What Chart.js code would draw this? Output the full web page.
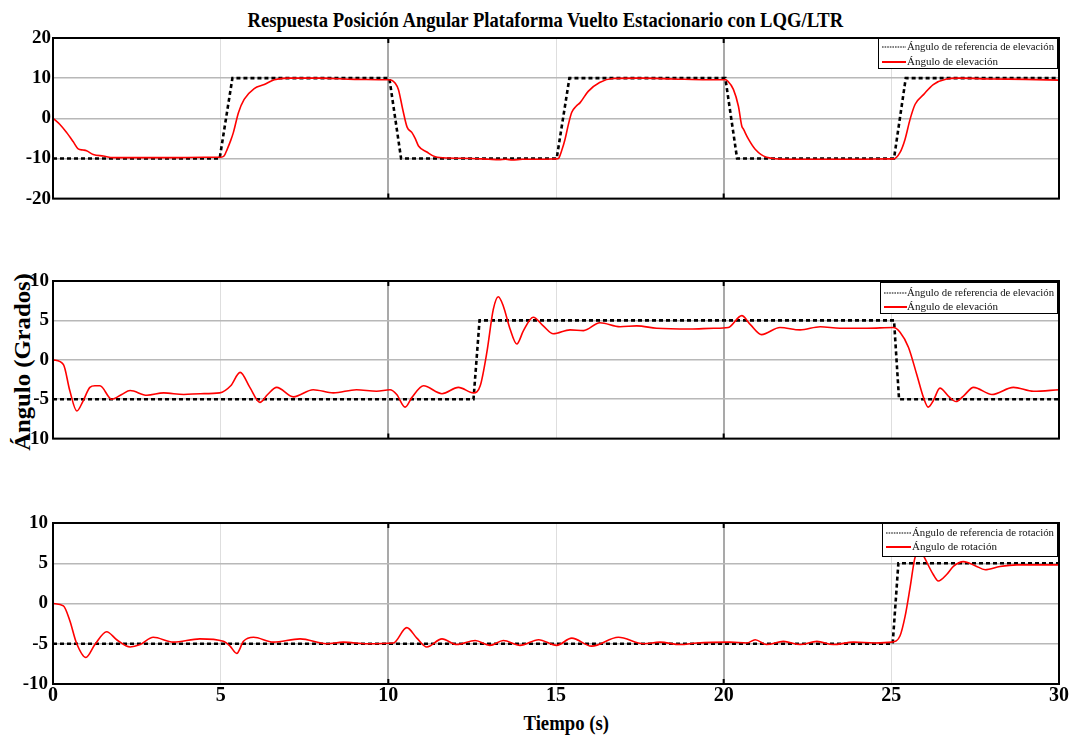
<!DOCTYPE html>
<html>
<head>
<meta charset="utf-8">
<script src="https://cdn.jsdelivr.net/npm/chart.js@4.4.0/dist/chart.umd.min.js"></script>
<style>
  html, body { margin:0; padding:0; background:#fff; }
  body { width:1070px; height:737px; position:relative; overflow:hidden; font-family:"Liberation Serif", serif; }
  canvas { position:absolute; left:0; }
  .lbl { position:absolute; white-space:nowrap; font-family:"Liberation Serif", serif; font-weight:bold; color:#000; transform-origin:50% 50%; }
</style>
</head>
<body>
<div id="title" class="lbl" style="font-size:21px;line-height:21px;">Respuesta Posición Angular Plataforma Vuelto Estacionario con LQG/LTR</div>
<div id="ylab" class="lbl" style="font-size:24px;line-height:24px;">Ángulo (Grados)</div>
<div id="xlab" class="lbl" style="font-size:22px;line-height:22px;">Tiempo (s)</div>
<canvas id="c1" width="1070" height="212" style="top:0px"></canvas>
<canvas id="c2" width="1070" height="204" style="top:250px"></canvas>
<canvas id="c3" width="1070" height="237" style="top:500px"></canvas>
<script>
// ---------------- DATA ----------------
const xTicks = [0, 5, 10, 15, 20, 25, 30];
const yTicksTop = [-20, -10, 0, 10, 20];
const yTicksLow = [-10, -5, 0, 5, 10];

const labelRefElev = 'Ángulo de referencia de elevación';
const labelElev = 'Ángulo de elevación';
const labelRefRot = 'Ángulo de referencia de rotación';
const labelRot = 'Ángulo de rotación';

// Panel 1: elevation reference (square wave ±10)
const refElevT1 = [0, 4.97, 5.35, 10.03, 10.38, 15.02, 15.40, 20.05, 20.40, 25.08, 25.43, 30];
const refElevV1 = [-10, -10, 10, 10, -10, -10, 10, 10, -10, -10, 10, 10];
// Panel 1: elevation response
const elevT1 = [
  0, 0.2, 0.4, 0.6, 0.75, 0.9, 1.0, 1.2, 1.5, 1.8, 2.5, 3.5, 4.5, 5.0,
  5.1, 5.2, 5.3, 5.38, 5.53, 5.7, 6.0, 6.3, 6.6, 7.0, 8.0, 9.0, 10.0,
  10.1, 10.2, 10.3, 10.43, 10.56, 10.7, 10.8, 10.9, 11.15, 11.4, 11.8, 12.5, 13.0, 13.3, 13.5, 13.7, 14.0, 14.5, 15.0,
  15.07, 15.17, 15.27, 15.37, 15.47, 15.6, 15.72, 15.96, 16.3, 16.7, 17.5, 18.5, 19.5, 20.05,
  20.12, 20.29, 20.44, 20.54, 20.59, 20.74, 20.94, 21.28, 21.9, 23, 24, 25.0,
  25.06, 25.26, 25.41, 25.56, 25.71, 25.96, 26.25, 26.65, 27.0, 28.0, 29.0, 30
];
const elevV1 = [
  0, -1.5, -3.5, -5.8, -7.6, -7.9, -8.1, -9.0, -9.4, -9.8, -9.8, -9.8, -9.7, -9.7,
  -9.4, -7.6, -5.5, -3.5, 1.4, 4.7, 7.4, 8.4, 9.6, 10.0, 10.0, 9.7, 9.6,
  9.5, 8.8, 7.2, 2.2, -2.2, -3.5, -5.0, -6.9, -8.4, -9.6, -9.9, -10.0, -10.2, -10.3, -10.2, -10.4, -10.2, -10.2, -10.1,
  -10.0, -8.0, -5.2, -1.5, 1.5, 3.0, 3.9, 6.7, 8.9, 9.9, 10.0, 9.8, 9.6, 9.6,
  9.3, 7.2, 3.0, -1.9, -2.7, -5.2, -7.7, -9.7, -10.2, -10.2, -10.2, -10.1,
  -10.1, -8.5, -5.2, -0.2, 3.5, 5.9, 8.4, 9.8, 10.0, 9.8, 9.7, 9.5
];

// Panel 2: elevation reference (±5)
const refElevT2 = [0, 12.54, 12.72, 25.08, 25.23, 30];
const refElevV2 = [-5, -5, 5, 5, -5, -5];
// Panel 2: elevation response
const elevT2 = [
  0, 0.31, 0.5, 0.71, 0.9, 1.1, 1.25, 1.4, 1.75, 2.05, 2.3, 2.8, 3.3, 3.9, 4.4, 4.97,
  5.3, 5.58, 5.87, 6.17, 6.4, 6.67, 7.17, 7.76, 8.36, 9.05, 9.65, 10.05,
  10.25, 10.5, 10.7, 11.05, 11.6, 12.09, 12.54, 12.74, 12.94, 13.13, 13.28, 13.43, 13.63, 13.83, 14.03, 14.32, 14.62, 14.92,
  15.42, 15.82, 16.31, 16.91, 17.41, 18.0, 19.0, 19.7, 20.14, 20.54, 20.79, 21.13, 21.68, 22.28, 22.88, 23.47, 24.27, 25.06,
  25.26, 25.51, 25.76, 25.96, 26.1, 26.25, 26.45, 26.7, 26.93, 27.15, 27.45, 28.0, 28.64, 29.24, 30
];
const elevV2 = [
  0, -0.6, -3.9, -6.5, -5.2, -3.5, -3.3, -3.3, -5.0, -4.4, -3.9, -4.5, -4.2, -4.4, -4.3, -4.2,
  -3.3, -1.6, -3.5, -5.4, -4.4, -3.5, -4.7, -3.8, -4.2, -3.8, -4.0, -3.8,
  -4.4, -6.0, -4.8, -3.3, -4.3, -3.5, -4.2, -3.3, 1.0, 6.4, 8.0, 6.8, 3.9, 2.0, 3.7, 5.4, 4.3, 3.3,
  3.8, 3.7, 4.7, 4.2, 4.3, 4.0, 3.9, 4.0, 4.1, 5.6, 4.5, 3.2, 4.1, 3.8, 4.2, 4.0, 4.0, 4.1,
  3.5, 1.6, -1.9, -4.8, -6.0, -5.2, -3.6, -4.6, -5.3, -4.6, -3.5, -4.4, -3.5, -4.0, -3.8
];

// Panel 3: rotation reference
const refRotT = [0, 25.04, 25.21, 30];
const refRotV = [-5, -5, 5, 5];
// Panel 3: rotation response
const rotT = [
  0, 0.31, 0.5, 0.7, 0.98, 1.25, 1.6, 1.9, 2.3, 2.6, 2.99, 3.59, 4.38, 5.08,
  5.28, 5.48, 5.68, 5.98, 6.57, 7.37, 8.16, 8.66, 9.35, 10.15,
  10.55, 10.85, 11.15, 11.6, 12.04, 12.59, 13.03, 13.43, 13.93, 14.48, 15.02, 15.47, 16.06, 16.86, 17.61, 18.1, 18.7, 19.2, 20.19, 20.69, 20.94, 21.28,
  21.78, 22.28, 22.78, 23.27, 23.87, 24.5, 25.01, 25.26, 25.41, 25.56, 25.7, 25.85, 26.0, 26.25, 26.4, 26.65, 26.85, 27.15, 27.5, 27.8, 28.24, 28.74, 30
];
const rotV = [
  0, -0.3, -2.1, -4.9, -6.7, -5.1, -3.5, -4.5, -5.4, -5.1, -4.2, -4.8, -4.4, -4.7,
  -5.3, -6.2, -4.7, -4.2, -4.8, -4.4, -5.0, -4.8, -5.0, -4.9,
  -3.0, -4.3, -5.4, -4.4, -5.1, -4.6, -5.2, -4.6, -5.2, -4.5, -5.2, -4.3, -5.3, -4.2, -5.0, -4.8, -5.1, -4.9, -4.8, -4.9, -4.5, -5.1,
  -4.7, -5.1, -4.7, -5.1, -4.8, -4.9, -4.8, -4.0, -1.6, 2.0, 5.6, 6.8, 5.6, 3.6, 2.8, 3.6, 4.6, 5.2, 4.7, 4.2, 4.6, 4.8, 4.8
];

// ---------------- RENDER ----------------
const FONT = 'Liberation Serif';
const zip = (t, v) => t.map((x, i) => ({ x: x, y: v[i] }));

const framePlugin = {
  id: 'frameLegend',
  afterDraw(chart, args, opts) {
    const { ctx, chartArea: a, scales } = chart;
    const x = scales.x;
    ctx.save();
    // axes box
    ctx.strokeStyle = '#000';
    ctx.lineWidth = 2;
    ctx.strokeRect(a.left, a.top, a.right - a.left, a.bottom - a.top);
    // small tick marks at 10 and 20
    [10, 20].forEach(v => {
      const px = x.getPixelForValue(v);
      ctx.beginPath();
      ctx.moveTo(px, a.top); ctx.lineTo(px, a.top + 5);
      ctx.moveTo(px, a.bottom); ctx.lineTo(px, a.bottom - 5);
      ctx.stroke();
    });
    // legend box
    const bx = a.right - opts.rightGap - opts.width;
    const by = a.top + opts.top;
    ctx.fillStyle = '#fff';
    ctx.fillRect(bx, by, opts.width, opts.height);
    ctx.lineWidth = 1;
    ctx.strokeStyle = '#000';
    ctx.strokeRect(bx + 0.5, by + 0.5, opts.width, opts.height);
    ctx.font = '11px "' + FONT + '"';
    ctx.textBaseline = 'middle';
    ctx.textAlign = 'left';
    chart.data.datasets.forEach((ds, i) => {
      const y = by + opts.rows[i];
      ctx.beginPath();
      ctx.strokeStyle = ds.borderColor;
      if (ds.borderDash && ds.borderDash.length) {
        ctx.setLineDash([1.6, 1]);
        ctx.lineWidth = 1.2;
      } else {
        ctx.setLineDash([]);
        ctx.lineWidth = 2;
      }
      ctx.moveTo(bx + 4, y);
      ctx.lineTo(bx + opts.sampleLen, y);
      ctx.stroke();
      ctx.setLineDash([]);
      ctx.fillStyle = '#111';
      const tx = bx + opts.textX;
      ctx.fillText(ds.label, tx, y, opts.width - opts.textX - 3);
    });
    ctx.restore();
  }
};

function makeChart(id, refT, refV, refLabel, respT, respV, respLabel, yTicks, yMin, yMax, opt) {
  const tickFont = { family: FONT, weight: 'bold', size: 19 };
  return new Chart(document.getElementById(id), {
    type: 'line',
    data: {
      datasets: [
        { label: refLabel, data: zip(refT, refV), borderColor: '#000', borderWidth: 2.6,
          borderDash: [4, 3], pointRadius: 0, tension: 0, order: 1 },
        { label: respLabel, data: zip(respT, respV), borderColor: '#ff0000', borderWidth: 1.6,
          pointRadius: 0, cubicInterpolationMode: 'monotone', order: 0 }
      ]
    },
    options: {
      responsive: false, animation: false, events: [],
      layout: { padding: { top: opt.padTop, bottom: opt.padBottom, left: 0, right: 11 } },
      plugins: {
        legend: { display: false }, tooltip: { enabled: false },
        frameLegend: opt.legend
      },
      scales: {
        x: {
          type: 'linear', min: 0, max: 30,
          afterBuildTicks: s => { s.ticks = xTicks.map(v => ({ value: v })); },
          afterFit: s => { s.height = opt.xHeight; },
          border: { display: false },
          grid: {
            drawTicks: false,
            color: c => (c.tick && (c.tick.value === 10 || c.tick.value === 20)) ? '#a9a9a9' : '#dedede',
            lineWidth: c => (c.tick && (c.tick.value === 10 || c.tick.value === 20)) ? 2 : 1
          },
          ticks: { display: opt.showX, font: { family: FONT, weight: 'bold', size: 20 }, color: '#000',
                   padding: 0, maxRotation: 0, autoSkip: false }
        },
        y: {
          type: 'linear', min: yMin, max: yMax,
          afterBuildTicks: s => { s.ticks = yTicks.map(v => ({ value: v })); },
          afterFit: s => { s.width = 53; },
          border: { display: false },
          grid: { drawTicks: false, color: '#b8b8b8', lineWidth: 1.5 },
          ticks: { font: tickFont, color: '#000', padding: opt.yPad }
        }
      }
    },
    plugins: [framePlugin]
  });
}

makeChart('c1', refElevT1, refElevV1, labelRefElev, elevT1, elevV1, labelElev, yTicksTop, -20, 20,
  { padTop: 38, padBottom: 12, xHeight: 0, showX: false, yPad: 2,
    legend: { rightGap: 2, width: 179, top: 0, height: 30, rows: [9, 24], sampleLen: 28, textX: 29 } });
makeChart('c2', refElevT2, refElevV2, labelRefElev, elevT2, elevV2, labelElev, yTicksLow, -10, 10,
  { padTop: 31, padBottom: 12, xHeight: 0, showX: false, yPad: 4,
    legend: { rightGap: 2, width: 177, top: 1, height: 31, rows: [11, 25], sampleLen: 27, textX: 27 } });
makeChart('c3', refRotT, refRotV, labelRefRot, rotT, rotV, labelRot, yTicksLow, -10, 10,
  { padTop: 23, padBottom: 0, xHeight: 53, showX: true, yPad: 5,
    legend: { rightGap: 2, width: 175, top: 0, height: 33, rows: [10, 24], sampleLen: 29, textX: 30 } });

// ---------------- TEXT LABELS ----------------
function place(el, cx, cy, targetW, rotate) {
  const w = el.offsetWidth, h = el.offsetHeight;
  el.style.left = (cx - w / 2) + 'px';
  el.style.top = (cy - h / 2) + 'px';
  el.style.transform = (rotate ? 'rotate(-90deg) ' : '') + 'scaleX(' + (targetW / w) + ')';
}
place(document.getElementById('title'), 545, 20.5, 596, false);
place(document.getElementById('xlab'), 565.5, 722.5, 85, false);
place(document.getElementById('ylab'), 22, 362, 178, true);
</script>
</body>
</html>
